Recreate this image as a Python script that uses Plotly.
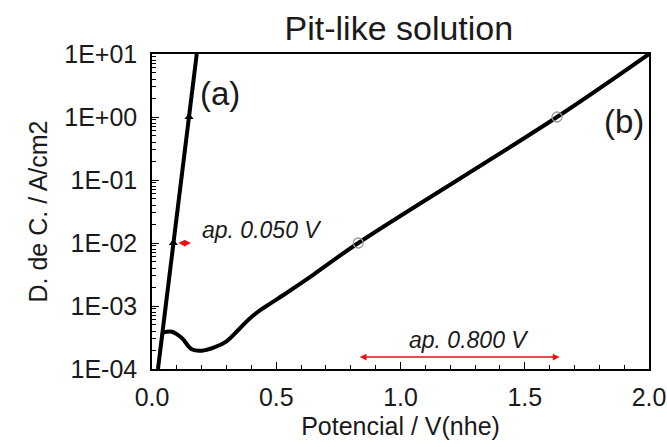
import plotly.graph_objects as go
import numpy as np

# Curve (a): steep line
a_x = [0.024, 0.086, 0.149, 0.180]
a_y = [1e-4, 1e-2, 1e0, 1e1]
a_mark_x = [0.086, 0.149]
a_mark_y = [1e-2, 1e0]

# Curve (b)
b_x = [0.045, 0.08, 0.12, 0.16, 0.20, 0.25, 0.30, 0.35, 0.39, 0.43, 0.48, 0.55, 0.65, 0.83, 1.63, 2.0]
b_y = [3.8e-4, 3.9e-4, 3.1e-4, 2.05e-4, 1.95e-4, 2.2e-4, 2.75e-4, 4.27e-4, 6.17e-4, 8.3e-4, 1.12e-3,
       1.7e-3, 3.16e-3, 1e-2, 1.0, 10.0]
b_mark_x = [0.83, 1.63]
b_mark_y = [1e-2, 1.0]

y_tickvals = [1e-4, 1e-3, 1e-2, 1e-1, 1e0, 1e1]
y_ticktext = ["1E-04", "1E-03", "1E-02", "1E-01", "1E+00", "1E+01"]
x_tickvals = [0.0, 0.5, 1.0, 1.5, 2.0]
x_ticktext = ["0.0", "0.5", "1.0", "1.5", "2.0"]

FONT = "Liberation Sans, Arial, sans-serif"
TXT = "#1a1a1a"

fig = go.Figure()
fig.add_trace(go.Scatter(x=a_x, y=a_y, mode="lines", line=dict(color="black", width=4), showlegend=False))
fig.add_trace(go.Scatter(x=a_mark_x, y=a_mark_y, mode="markers",
                         marker=dict(symbol="triangle-up", size=8, color="black"), showlegend=False))
fig.add_trace(go.Scatter(x=b_x, y=b_y, mode="lines", line=dict(color="black", width=4, shape="spline", smoothing=1.0),
                         showlegend=False))
fig.add_trace(go.Scatter(x=b_mark_x, y=b_mark_y, mode="markers",
                         marker=dict(symbol="circle-open", size=10, color="#999999", line=dict(width=1.3)),
                         showlegend=False))

# Arrows
def dbl_arrow(x0, x1, y):
    fig.add_annotation(x=x1, y=np.log10(y), ax=x0, ay=np.log10(y), xref="x", yref="y", axref="x", ayref="y",
                       showarrow=True, arrowhead=2, arrowside="end+start", arrowsize=0.9, arrowwidth=1.5,
                       arrowcolor="#ee1111", text="")

dbl_arrow(0.10, 0.157, 1e-2)
dbl_arrow(0.83, 1.64, 1.55e-4)

fig.add_annotation(x=0.194, y=np.log10(1.62e-2), xref="x", yref="y", text="<i>ap. 0.050 V</i>", showarrow=False,
                   xanchor="left", yanchor="middle", font=dict(size=23, color=TXT, family=FONT))
fig.add_annotation(x=1.274, y=np.log10(2.88e-4), xref="x", yref="y", text="<i>ap. 0.800 V</i>", showarrow=False,
                   xanchor="center", yanchor="middle", font=dict(size=23, color=TXT, family=FONT))
fig.add_annotation(x=0.274, y=np.log10(2.4), xref="x", yref="y", text="(a)", showarrow=False,
                   yanchor="middle", font=dict(size=33, color=TXT, family=FONT))
fig.add_annotation(x=1.899, y=np.log10(0.834), xref="x", yref="y", text="(b)", showarrow=False,
                   yanchor="middle", font=dict(size=33, color=TXT, family=FONT))

fig.update_layout(
    width=667, height=447,
    margin=dict(l=152, r=18, t=54, b=78),
    paper_bgcolor="white", plot_bgcolor="white",
    font=dict(family=FONT, color=TXT, size=25),
    title=dict(text="Pit-like solution", x=0.598, xanchor="center", y=1 - 28 / 447, yanchor="middle",
               font=dict(size=34, family=FONT, color=TXT)),
)
fig.update_xaxes(range=[0, 2.0], tickvals=x_tickvals, ticktext=x_ticktext, ticks="inside", ticklen=7,
                 tickcolor="black", showline=True, linecolor="black", linewidth=1.5, mirror=True,
                 showgrid=False, zeroline=False, tickfont=dict(size=25), ticklabelstandoff=5, automargin=False,
                 minor=dict(ticks="inside", ticklen=4, dtick=0.1, tickcolor="black", showgrid=False),
                 title=dict(text="Potencial / V(nhe)", font=dict(size=25), standoff=8))
fig.update_yaxes(type="log", range=[-4, 1], tickvals=y_tickvals, ticktext=y_ticktext, ticks="inside", ticklen=7,
                 tickcolor="black", showline=True, linecolor="black", linewidth=1.5, mirror=True,
                 showgrid=False, zeroline=False, tickfont=dict(size=25), ticklabelstandoff=8, automargin=False,
                 minor=dict(ticks="inside", ticklen=4, dtick="D1", tickcolor="black", showgrid=False),
                 title=dict(text="D. de C. / A/cm2", font=dict(size=25), standoff=10))

fig.write_html("out.html")
